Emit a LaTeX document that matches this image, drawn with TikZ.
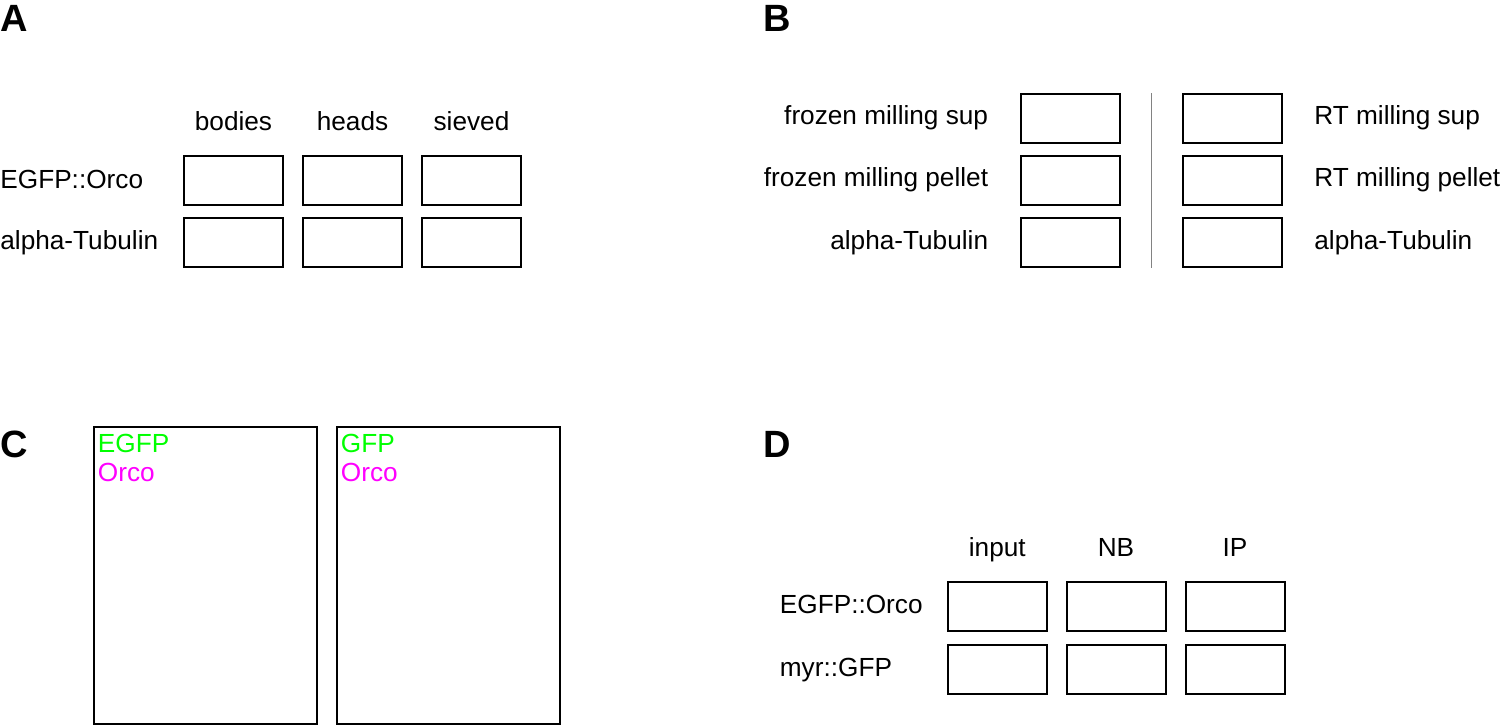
\documentclass[tikz,border=0pt]{standalone}
\usepackage{fontspec}
\setmainfont{Liberation Sans}
\definecolor{gfpgreen}{RGB}{0,255,0}
\definecolor{orcomag}{RGB}{255,0,255}
\definecolor{divgray}{RGB}{130,130,130}
\begin{document}
\begin{tikzpicture}[x=0.5pt,y=-0.5pt,
  blot/.style={draw=black,line width=1pt,minimum width=49.5pt,minimum height=24.5pt,inner sep=0pt,outer sep=0pt},
  bigbox/.style={draw=black,line width=1pt,minimum width=111.5pt,minimum height=148.5pt,inner sep=0pt,outer sep=0pt},
  lbl/.style={font=\fontsize{13.1}{15}\selectfont,inner sep=0pt},
  hdr/.style={lbl,anchor=base},
  rowl/.style={lbl,anchor=base west},
  rowr/.style={lbl,anchor=base east},
  panel/.style={font=\fontsize{19}{22}\selectfont\bfseries,inner sep=0pt,anchor=base west}]
\useasboundingbox (0,0) rectangle (1500,727);

% ---------- Panel A ----------
\node[panel] (pA) at (0,32) {A};
\node[hdr] (hA1) at (233.5,131) {bodies};
\node[hdr] (hA2) at (352.5,131) {heads};
\node[hdr] (hA3) at (471.5,131) {sieved};
\node[rowl] (rA1) at (0,188.5) {EGFP::Orco};
\node[rowl] (rA2) at (0,250) {alpha-Tubulin};
\node[blot] (a11) at (233.5,181) {};
\node[blot] (a12) at (352.5,181) {};
\node[blot] (a13) at (471.5,181) {};
\node[blot] (a21) at (233.5,243) {};
\node[blot] (a22) at (352.5,243) {};
\node[blot] (a23) at (471.5,243) {};

% ---------- Panel B ----------
\node[panel] (pB) at (763,32) {B};
\node[rowr] (bL1) at (988.5,125) {frozen milling sup};
\node[rowr] (bL2) at (988.5,187) {frozen milling pellet};
\node[rowr] (bL3) at (988.5,249.5) {alpha-Tubulin};
\node[blot] (b11) at (1070.3,118.5) {};
\node[blot] (b21) at (1070.3,181) {};
\node[blot] (b31) at (1070.3,243) {};
\node[blot] (b12) at (1232.5,118.5) {};
\node[blot] (b22) at (1232.5,181) {};
\node[blot] (b32) at (1232.5,243) {};
\node[rowl] (bR1) at (1314,125) {RT milling sup};
\node[rowl] (bR2) at (1314,187) {RT milling pellet};
\node[rowl] (bR3) at (1314,249.5) {alpha-Tubulin};
\coordinate (divtop) at (1151.7,93.5);
\coordinate (divbot) at (1151.7,268);
\draw[divgray,line width=0.6pt] (divtop) -- (divbot);

% ---------- Panel C ----------
\node[panel] (pC) at (0,458) {C};
\node[bigbox] (c1) at (205.2,575.5) {};
\node[bigbox] (c2) at (448.2,575.5) {};
\node[rowl,text=gfpgreen] (c1g) at (97.5,452) {EGFP};
\node[rowl,text=orcomag] (c1o) at (97.5,481.5) {Orco};
\node[rowl,text=gfpgreen] (c2g) at (340.5,452) {GFP};
\node[rowl,text=orcomag] (c2o) at (340.5,481.5) {Orco};

% ---------- Panel D ----------
\node[panel] (pD) at (763,458) {D};
\node[hdr] (hD1) at (997.3,556.5) {input};
\node[hdr] (hD2) at (1116,556.5) {NB};
\node[hdr] (hD3) at (1235,556.5) {IP};
\node[rowl] (rD1) at (779.5,613.5) {EGFP::Orco};
\node[rowl] (rD2) at (779.5,676) {myr::GFP};
\node[blot] (d11) at (997.3,606.5) {};
\node[blot] (d12) at (1116,606.5) {};
\node[blot] (d13) at (1235,606.5) {};
\node[blot] (d21) at (997.3,669.3) {};
\node[blot] (d22) at (1116,669.3) {};
\node[blot] (d23) at (1235,669.3) {};
\end{tikzpicture}
\end{document}
